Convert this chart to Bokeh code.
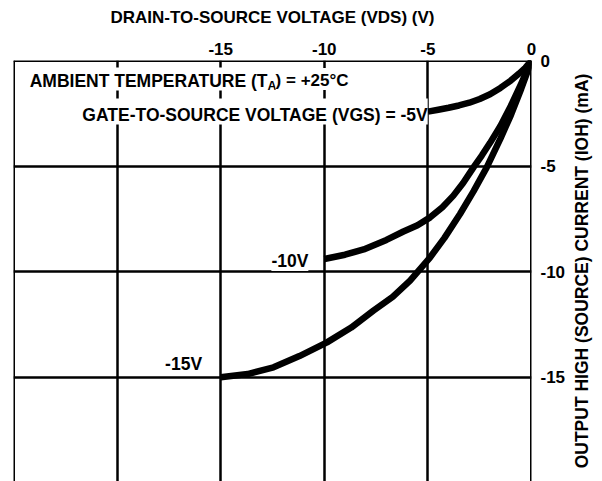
import math
from bokeh.plotting import figure
from bokeh.layouts import row
from bokeh.models import Range1d, FixedTicker, Label, Span
from bokeh.embed import file_html
from bokeh.resources import INLINE

# ---- data ----
vds_5v = [0.0, -0.3, -0.6, -1.0, -1.5, -2.0, -2.5, -3.0, -3.5, -4.0, -4.5, -5.0]
ioh_5v = [0.0, -0.35, -0.62, -0.95, -1.3, -1.6, -1.82, -2.0, -2.13, -2.24, -2.33, -2.42]

vds_10v = [0.0, -0.5, -1.0, -1.5, -2.0, -2.4, -2.8, -3.3, -3.77, -4.3, -4.89, -5.5, -6.18, -7.0, -8.1, -9.0, -10.0]
ioh_10v = [0.0, -1.1, -2.15, -3.1, -3.9, -4.5, -5.06, -5.8, -6.4, -6.95, -7.43, -7.8, -8.1, -8.5, -8.95, -9.2, -9.4]

vds_15v = [0.0, -0.5, -1.0, -1.5, -2.16, -2.8, -3.45, -4.2, -4.89, -5.86, -6.7, -7.63, -8.7, -9.87, -11.2, -12.45, -13.7, -15.0]
ioh_15v = [0.0, -1.35, -2.6, -3.7, -5.06, -6.2, -7.27, -8.4, -9.32, -10.43, -11.2, -11.85, -12.65, -13.35, -14.0, -14.53, -14.85, -15.0]

x_ticks = [-15, -10, -5, 0]
x_tick_labels = ["-15", "-10", "-5", "0"]
y_ticks = [0, -5, -10, -15]
y_tick_labels = ["0", "-5", "-10", "-15"]
x_grid = [-25, -20, -15, -10, -5, 0]
y_grid = [0, -5, -10, -15]
x_min, x_max = -25, 0
y_min, y_max = -19.94, 0

X_TITLE = "DRAIN-TO-SOURCE VOLTAGE (VDS) (V)"
Y_TITLE = "OUTPUT HIGH (SOURCE) CURRENT (IOH) (mA)"

FONT = "Liberation Sans"

p = figure(frame_width=518, frame_height=421,
           x_range=Range1d(x_min, x_max), y_range=Range1d(y_min, y_max),
           x_axis_location="above", y_axis_location="right",
           output_backend="svg", toolbar_location=None,
           min_border_left=13, min_border_top=60, min_border_bottom=0,
           min_border_right=35)
p.outline_line_color = None
p.background_fill_color = "white"

# grid
p.xgrid.ticker = FixedTicker(ticks=x_grid)
p.ygrid.ticker = FixedTicker(ticks=y_grid)
for g in (p.xgrid, p.ygrid):
    g.grid_line_color = "black"
    g.grid_line_width = 2.5
    g.grid_line_alpha = 1.0

# frame border (left, right, top)
for loc, dim in ((x_min, "height"), (x_max, "height"), (y_max, "width")):
    p.add_layout(Span(location=loc, dimension=dim, line_color="black",
                      line_width=3, level="underlay"))

# axes
p.xaxis.ticker = FixedTicker(ticks=x_ticks)
p.xaxis.major_label_overrides = dict(zip(x_ticks, x_tick_labels))
p.yaxis.ticker = FixedTicker(ticks=y_ticks)
p.yaxis.major_label_overrides = dict(zip(y_ticks, y_tick_labels))
p.xaxis.axis_label = X_TITLE
for ax in (p.xaxis, p.yaxis):
    ax.axis_line_color = None
    ax.major_tick_line_color = None
    ax.minor_tick_line_color = None
    ax.major_label_text_font = FONT
    ax.major_label_text_font_style = "bold"
    ax.major_label_text_font_size = "17px"
    ax.major_label_text_color = "black"
    ax.axis_label_text_font = FONT
    ax.axis_label_text_font_style = "bold"
    ax.axis_label_text_font_size = "17px"
    ax.axis_label_text_color = "black"
p.xaxis.major_label_standoff = 0
p.xaxis.axis_label_standoff = 13
p.yaxis.major_tick_out = 0
p.yaxis.major_tick_in = 0
p.yaxis.major_label_standoff = 9

# curves
for xs, ys in ((vds_5v, ioh_5v), (vds_10v, ioh_10v), (vds_15v, ioh_15v)):
    p.line(xs, ys, line_color="black", line_width=6.5,
           line_cap="butt", line_join="round")

def lab(x, y, text, align="left", size="17.5px", pad=(0, 0, 0, 0)):
    p.add_layout(Label(x=x, y=y, text=text, text_align=align,
                       text_baseline="middle", text_font=FONT,
                       text_font_style="bold", text_font_size=size,
                       text_color="black", background_fill_color="white",
                       padding=pad))

# annotations
lab(-12.74, -0.88, "AMBIENT TEMPERATURE (T", align="right", pad=(0, 0, 3, 0))
lab(-12.74, -1.23, "A", size="12.5px", pad=(0, 0, 0, 0))
lab(-12.35, -0.88, ") = +25\u00b0C", size="17px", pad=(0, 0, 3, 0))
lab(-5.01, -2.42, "GATE-TO-SOURCE VOLTAGE (VGS) = -5V", align="right", pad=(1, 0, 6, 0))
lab(-10.77, -9.5, "-10V", align="right")
lab(-15.90, -14.36, "-15V", align="right")

# narrow strip to the right whose left-axis title reads bottom to top
t = figure(frame_width=4, frame_height=421,
           x_range=Range1d(0, 1), y_range=p.y_range,
           x_axis_type=None, y_axis_location="left",
           output_backend="svg", toolbar_location=None,
           min_border_left=0, min_border_right=0,
           min_border_top=60, min_border_bottom=0)
t.grid.visible = False
t.outline_line_color = None
t.yaxis.ticker = FixedTicker(ticks=[])
t.yaxis.axis_line_color = None
t.yaxis.major_tick_line_color = None
t.yaxis.minor_tick_line_color = None
t.yaxis.major_tick_out = 0
t.yaxis.major_tick_in = 0
t.yaxis.axis_label = Y_TITLE
t.yaxis.axis_label_text_font = FONT
t.yaxis.axis_label_text_font_style = "bold"
t.yaxis.axis_label_text_font_size = "17.5px"
t.yaxis.axis_label_text_color = "black"
t.yaxis.axis_label_standoff = 2

layout = row(p, t)
open("out.html", "w").write(file_html(layout, INLINE))
